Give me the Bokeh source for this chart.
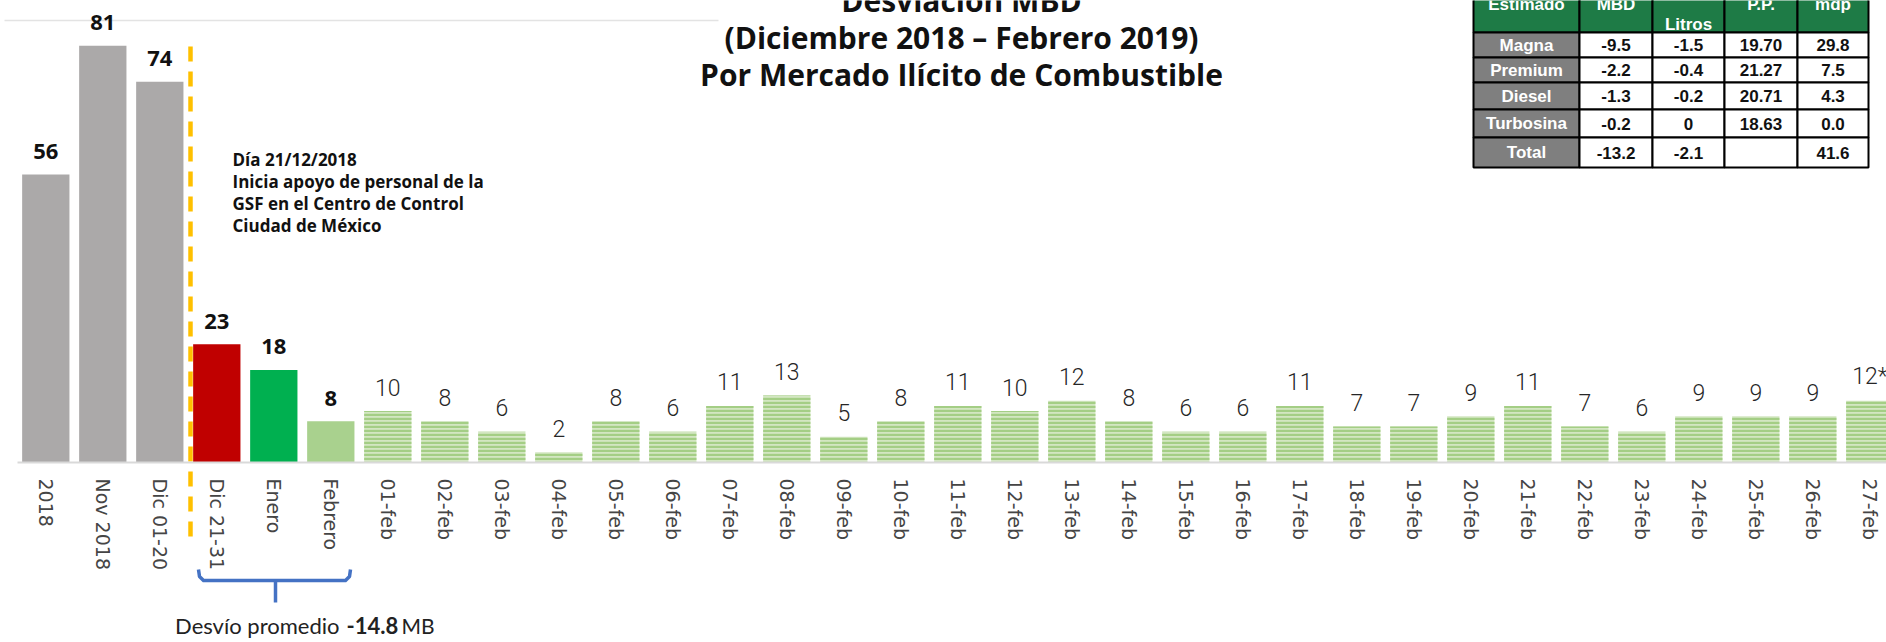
from bokeh.plotting import figure
from bokeh.models import Range1d, LinearAxis, FixedTicker
from bokeh.core.properties import value
from bokeh.embed import file_html
from bokeh.resources import INLINE

# ---------------- data ----------------
summary_labels = ["2018", "Nov 2018", "Dic 01-20", "Dic 21-31", "Enero", "Febrero"]
summary_values = [56, 81, 74, 23, 18, 8]
summary_colors = ["#ABA9A9", "#ABA9A9", "#ABA9A9", "#C00000", "#00B050", "#A9D18E"]

daily_labels = ["01-feb", "02-feb", "03-feb", "04-feb", "05-feb", "06-feb", "07-feb",
                "08-feb", "09-feb", "10-feb", "11-feb", "12-feb", "13-feb", "14-feb",
                "15-feb", "16-feb", "17-feb", "18-feb", "19-feb", "20-feb", "21-feb",
                "22-feb", "23-feb", "24-feb", "25-feb", "26-feb", "27-feb"]
daily_values = [10, 8, 6, 2, 8, 6, 11, 13, 5, 8, 11, 10, 12, 8, 6, 6, 11, 7, 7, 9,
                11, 7, 6, 9, 9, 9, 12]
daily_notes = [""] * 26 + ["*"]

title_lines = ["Desviación MBD", "(Diciembre 2018 – Febrero 2019)",
               "Por Mercado Ilícito de Combustible"]
note_lines = ["Día 21/12/2018", "Inicia apoyo de personal de la",
              "GSF en el Centro de Control", "Ciudad de México"]
avg_prefix = "Desvío promedio"
avg_value = -14.8
avg_unit = "MB"

table_headers = ["Estimado", "MBD", "Litros", "P.P.", "mdp"]
table_rows = ["Magna", "Premium", "Diesel", "Turbosina", "Total"]
table_mbd = ["-9.5", "-2.2", "-1.3", "-0.2", "-13.2"]
table_litros = ["-1.5", "-0.4", "-0.2", "0", "-2.1"]
table_pp = ["19.70", "21.27", "20.71", "18.63", ""]
table_mdp = ["29.8", "7.5", "4.3", "0.0", "41.6"]

# ---------------- layout helpers (screen px -> data) ----------------
W, H = 1886, 642
PX0, SX = 45.3, 57.0      # screen x of category 0, px per category
BASE, SY = 462.0, 5.145   # screen y of value 0, px per unit


def X(px):
    return (px - PX0) / SX


def Y(py):
    return (BASE - py) / SY


p = figure(width=W, height=H, output_backend="svg", toolbar_location=None,
           x_range=Range1d(X(0), X(W)), y_range=Range1d(Y(H), Y(0)),
           x_axis_type=None, y_axis_type=None, min_border=0,
           outline_line_color=None, background_fill_color="white",
           border_fill_color="white")

# thin frame line at top-left
p.segment(x0=[X(4)], y0=[Y(20)], x1=[X(718)], y1=[Y(20)], line_color="#E3E3E3", line_width=1.5)

idx_s = list(range(len(summary_values)))
idx_d = list(range(len(summary_values), len(summary_values) + len(daily_values)))
BW = 0.83

p.vbar(x=idx_s, top=summary_values, bottom=0, width=BW, fill_color=summary_colors,
       line_color=None)
p.vbar(x=idx_d, top=daily_values, bottom=0, width=BW, fill_color="#D3E6C2",
       line_color=None, hatch_pattern="horizontal_line", hatch_color="#A4CE85",
       hatch_scale=4.0, hatch_weight=2.4)

p.text(x=idx_s, y=summary_values, text=[str(v) for v in summary_values], y_offset=-23,
       text_align="center", text_baseline="middle", text_font=value("Open Sans"),
       text_font_style="bold", text_font_size="22px", text_color="#111111")
p.text(x=idx_d, y=daily_values, text=[f"{v}{n}" for v, n in zip(daily_values, daily_notes)],
       y_offset=-24, text_align="center", text_baseline="middle",
       text_font=value("Roboto Light"), text_font_size="23px", text_color="#262626")

# x axis at value 0
all_labels = summary_labels + daily_labels
ax = LinearAxis(ticker=FixedTicker(ticks=idx_s + idx_d),
                major_label_overrides={i: lab for i, lab in enumerate(all_labels)},
                fixed_location=0, bounds=(X(17), X(W)),
                major_label_orientation="vertical", major_label_standoff=10,
                major_tick_line_color=None, minor_tick_line_color=None,
                axis_line_color="#D9D9D9", axis_line_width=2,
                major_label_text_font="DejaVu Sans", major_label_text_font_size="19px",
                major_label_text_color="#454545")
p.add_layout(ax, "below")

# dashed yellow divider
p.segment(x0=[X(190)], y0=[Y(46)], x1=[X(190)], y1=[Y(540)], line_color="#FFC000",
          line_width=4.5, line_dash="15 10")

# annotation text
p.text(x=[X(232)] * 4, y=[Y(159), Y(181), Y(203), Y(225)], text=note_lines,
       text_align="left", text_baseline="middle", text_font=value("Open Sans"),
       text_font_style="bold", text_font_size="17px", text_color="#111111")

# title
p.text(x=[X(961)] * 3, y=[Y(0), Y(37), Y(74)], text=title_lines, text_align="center",
       text_baseline="middle", text_font=value("Open Sans"), text_font_style="bold",
       text_font_size="30px", text_color="#111111")

# bracket
bx = [198, 199, 203, 345, 349, 350]
by = [569, 576, 580, 580, 576, 569]
p.line(x=[X(v) for v in bx], y=[Y(v) for v in by], line_color="#4472C4", line_width=3.5,
       line_join="round")
p.segment(x0=[X(275)], y0=[Y(580)], x1=[X(275)], y1=[Y(602)], line_color="#4472C4",
          line_width=3.5)

AVG_BASE = 625
p.text(x=[X(339)], y=[Y(AVG_BASE)], text=[avg_prefix], text_align="right",
       text_baseline="alphabetic", text_font=value("Lato"), text_font_size="22px",
       text_color="#222222")
p.text(x=[X(346)], y=[Y(AVG_BASE)], text=[f"{avg_value:.1f}"], text_align="left",
       text_baseline="alphabetic", text_font=value("Lato"), text_font_style="bold",
       text_font_size="22px", text_color="#222222")
p.text(x=[X(401)], y=[Y(AVG_BASE)], text=[avg_unit], text_align="left",
       text_baseline="alphabetic", text_font=value("Lato"), text_font_size="21px",
       text_color="#222222")

# table
col_px = [1473, 1579, 1652, 1724, 1797, 1868]
row_px = [-25, 32, 57, 82, 109, 137, 167]
lefts, rights, tops, bottoms, fills = [], [], [], [], []
for r in range(len(row_px) - 1):
    for c in range(len(col_px) - 1):
        lefts.append(X(col_px[c]))
        rights.append(X(col_px[c + 1]))
        tops.append(Y(row_px[r]))
        bottoms.append(Y(row_px[r + 1]))
        if r == 0:
            fills.append("#1E7B46")
        elif c == 0:
            fills.append("#7F7F7F")
        else:
            fills.append("white")
p.quad(left=lefts, right=rights, top=tops, bottom=bottoms, fill_color=fills,
       line_color="black", line_width=2)

ccx = [X((col_px[c] + col_px[c + 1]) / 2) for c in range(5)]
hdr_y = [Y(4), Y(4), Y(24), Y(4), Y(4)]
p.text(x=ccx, y=hdr_y, text=table_headers, text_align="center", text_baseline="middle",
       text_font=value("Liberation Sans"), text_font_style="bold", text_font_size="17px",
       text_color="white")
row_cy = [Y((row_px[r] + row_px[r + 1]) / 2) for r in range(1, len(row_px) - 1)]
p.text(x=[ccx[0]] * 5, y=row_cy, text=table_rows, text_align="center",
       text_baseline="middle", text_font=value("Liberation Sans"), text_font_style="bold",
       text_font_size="17px", text_color="white")
for ci, col in enumerate([table_mbd, table_litros, table_pp, table_mdp], start=1):
    p.text(x=[ccx[ci]] * 5, y=row_cy, text=col, text_align="center",
           text_baseline="middle", text_font=value("Liberation Sans"),
           text_font_style="bold", text_font_size="17px", text_color="#111111")

open("out.html", "w").write(file_html(p, INLINE))
